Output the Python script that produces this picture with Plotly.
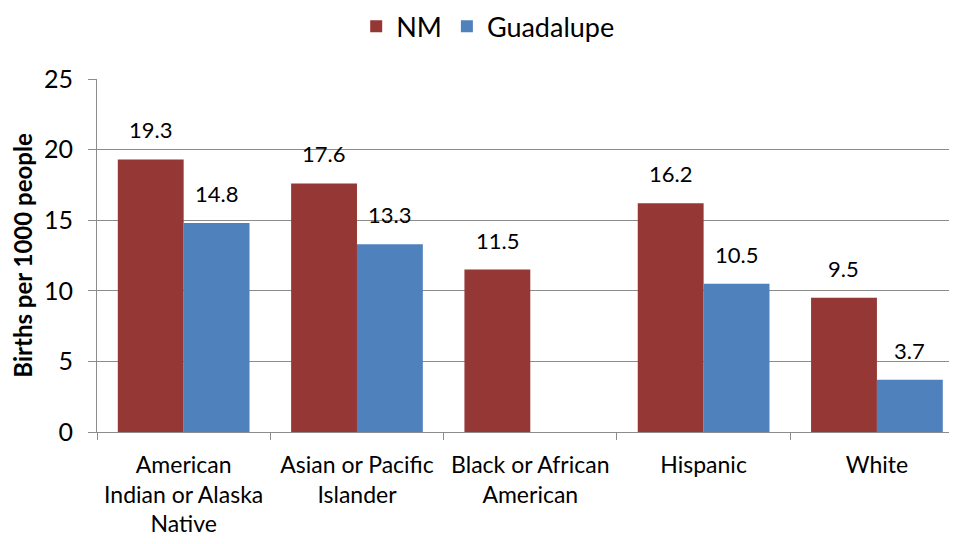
import plotly.graph_objects as go

categories = ["American<br>Indian or Alaska<br>Native", "Asian or Pacific<br>Islander",
              "Black or African<br>American", "Hispanic", "White"]
nm_values = [19.3, 17.6, 11.5, 16.2, 9.5]
guadalupe_values = [14.8, 13.3, None, 10.5, 3.7]
y_ticks = [0, 5, 10, 15, 20, 25]

FONT = "Lato"
NM_COLOR = "#953735"
GU_COLOR = "#4F81BD"
GRID = "#8C8C8C"

fig = go.Figure()
fig.add_trace(go.Bar(name="NM", x=categories, y=nm_values, marker_color=NM_COLOR,
                     marker_line_width=0))
fig.add_trace(go.Bar(name="Guadalupe", x=categories, y=guadalupe_values, marker_color=GU_COLOR,
                     marker_line_width=0))

annotations = []
for series, shift in ((nm_values, -33), (guadalupe_values, 33)):
    for c, v in zip(categories, series):
        if v is None:
            continue
        annotations.append(dict(x=c, y=v, text=f"{v:.1f}", showarrow=False, xref="x", yref="y",
                                xshift=shift, yshift=14, yanchor="bottom",
                                font=dict(family=FONT, size=22, color="#000")))

fig.update_layout(
    width=949, height=536,
    margin=dict(l=89, r=0, t=71, b=112, autoexpand=False),
    paper_bgcolor="white", plot_bgcolor="white",
    barmode="group", bargap=0.24, bargroupgap=0,
    font=dict(family=FONT, size=22, color="#000"),
    legend=dict(orientation="h", x=0.506, xref="container", xanchor="center", y=0.965,
                yref="container", yanchor="middle", font=dict(family=FONT, size=27),
                itemwidth=30, traceorder="normal", bgcolor="rgba(0,0,0,0)"),
    annotations=annotations,
    xaxis=dict(type="category", range=[-0.5, 4.462], tickson="boundaries", ticks="outside",
               ticklen=7, tickcolor=GRID, showline=True, linecolor=GRID, linewidth=1,
               showgrid=False, automargin=False, ticklabelstandoff=12,
               tickfont=dict(family=FONT, size=23)),
    yaxis=dict(range=[0, 25], tickvals=y_ticks, ticks="outside", ticklen=8, tickcolor=GRID,
               showline=True, linecolor=GRID, linewidth=1, showgrid=True, gridcolor=GRID,
               gridwidth=1, zeroline=False, automargin=False, ticklabelstandoff=10,
               tickfont=dict(family=FONT, size=25),
               title=dict(text="<b>Births per 1000 people</b>", font=dict(family=FONT, size=24),
                          standoff=4)),
)

fig.write_html("out.html")
